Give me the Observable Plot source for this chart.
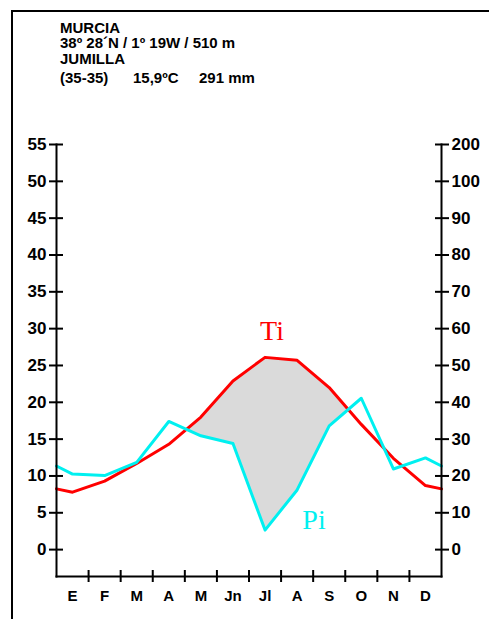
<!DOCTYPE html>
<html>
<head>
<meta charset="utf-8">
<script src="https://cdn.jsdelivr.net/npm/d3@7"></script>
<script src="https://cdn.jsdelivr.net/npm/@observablehq/plot@0.6"></script>
<style>
  html, body { margin: 0; padding: 0; background: #fff; }
  #wrap { position: relative; width: 489px; height: 619px; overflow: hidden; }
  #border { position: absolute; left: 11px; top: 10px; right: -5px; bottom: -5px; border-top: 2px solid #000; border-left: 2px solid #000; }
  #title { position: absolute; left: 0; top: 0; }
  #title text { font-family: "Liberation Sans", Arial, sans-serif; font-weight: bold; font-size: 15px; fill: #000; }
  #chart { position: absolute; left: 0; top: 0; }
</style>
</head>
<body>
<div id="wrap">
  <div id="border"></div>
  <div id="chart"></div>
  <svg id="title" width="489" height="100">
    <text x="60" y="33">MURCIA</text>
    <text x="60" y="48">38º 28´N / 1º 19W / 510 m</text>
    <text x="60" y="64">JUMILLA</text>
    <text x="60" y="83">(35-35)</text>
    <text x="133" y="83">15,9ºC</text>
    <text x="199" y="83">291 mm</text>
  </svg>
</div>
<script>
// ---- data ----
const months = ["E", "F", "M", "A", "M", "Jn", "Jl", "A", "S", "O", "N", "D"];
const temperature = [7.8, 9.3, 11.7, 14.3, 18.0, 22.9, 26.1, 25.7, 22.0, 17.0, 12.4, 8.7];   // ºC
const precipitation = [20.5, 20.1, 23.7, 34.8, 30.9, 28.8, 5.3, 16.2, 33.6, 41.1, 21.9, 24.9]; // mm
const leftTicks = [0, 5, 10, 15, 20, 25, 30, 35, 40, 45, 50, 55];
const rightTickLabels = ["0", "10", "20", "30", "40", "50", "60", "70", "80", "90", "100", "200"];
const seriesLabels = ["Ti", "Pi"];

// ---- build series (P shown at P = 2T scale); edges = mean of Dec & Jan ----
const n = months.length;
const pts = [];
pts.push({x: 0, t: (temperature[0] + temperature[n - 1]) / 2, p: (precipitation[0] + precipitation[n - 1]) / 4});
for (let i = 0; i < n; i++) pts.push({x: i + 0.5, t: temperature[i], p: precipitation[i] / 2});
pts.push({x: n, t: pts[0].t, p: pts[0].p});

// dense series with crossing points
const dense = [];
for (let i = 0; i < pts.length; i++) {
  dense.push(pts[i]);
  if (i < pts.length - 1) {
    const a = pts[i], b = pts[i + 1];
    const d0 = a.t - a.p, d1 = b.t - b.p;
    if (d0 * d1 < 0) {
      const f = d0 / (d0 - d1);
      const x = a.x + f * (b.x - a.x);
      const t = a.t + f * (b.t - a.t);
      dense.push({x, t, p: t});
    }
  }
}
// dry runs (T above P/2), keep the main one
const runs = [];
let cur = null;
for (const d of dense) {
  if (d.t - d.p >= -1e-9) { if (!cur) cur = []; cur.push(d); }
  else { if (cur) runs.push(cur); cur = null; }
}
if (cur) runs.push(cur);
const runArea = r => d3.sum(r.slice(1), (d, i) => (d.x - r[i].x) * ((d.t - d.p) + (r[i].t - r[i].p)) / 2);
const dry = runs.length ? runs.reduce((a, b) => runArea(b) > runArea(a) ? b : a) : [];

const tMaxIdx = d3.maxIndex(temperature);
const pMinIdx = d3.minIndex(precipitation);

const fontSans = "'Liberation Sans', Arial, sans-serif";

const chart = Plot.plot({
  width: 489,
  height: 619,
  marginLeft: 56,
  marginRight: 48,
  marginTop: 144,
  marginBottom: 43,
  style: {fontFamily: fontSans, fontWeight: "bold", fontSize: "17px", color: "#000", background: "transparent", overflow: "visible"},
  x: {domain: [0, n], label: null},
  y: {domain: [-3.65, 55], label: null},
  marks: [
    Plot.areaY(dry, {x: "x", y1: "p", y2: "t", fill: "#dadada", curve: "linear"}),
    Plot.line(pts, {x: "x", y: "t", stroke: "#ff0000", strokeWidth: 3}),
    Plot.line(pts, {x: "x", y: "p", stroke: "#00f0f0", strokeWidth: 3}),
    Plot.frame({anchor: "left", stroke: "#000", strokeWidth: 2}),
    Plot.frame({anchor: "right", stroke: "#000", strokeWidth: 2}),
    Plot.frame({anchor: "bottom", stroke: "#000", strokeWidth: 2}),
    Plot.axisY({anchor: "left", ticks: leftTicks, tickSize: 14, dx: 7, tickFormat: () => "", strokeWidth: 2, label: null}),
    Plot.axisY({anchor: "left", ticks: leftTicks, tickSize: 0, tickPadding: 10, fontSize: 17, fontWeight: "bold", label: null}),
    Plot.axisY({anchor: "right", ticks: leftTicks, tickSize: 14, dx: -7, tickFormat: () => "", strokeWidth: 2, label: null}),
    Plot.axisY({anchor: "right", ticks: leftTicks, tickSize: 0, tickPadding: 10, fontSize: 17, fontWeight: "bold",
      tickFormat: d => rightTickLabels[leftTicks.indexOf(d)], label: null}),
    Plot.axisX({anchor: "bottom", ticks: d3.range(1, n), tickSize: 12, dy: -6, tickFormat: () => "", strokeWidth: 2, label: null}),
    Plot.axisX({anchor: "bottom", ticks: months.map((m, i) => i + 0.5), tickSize: 0, tickPadding: 14, fontSize: 15, fontWeight: "bold",
      tickFormat: d => months[Math.floor(d)], label: null}),
    Plot.text([seriesLabels[0]], {x: () => tMaxIdx + 0.5, y: () => temperature[tMaxIdx], text: d => d, dx: 7, dy: -26,
      fill: "#ff0000", fontFamily: "'Liberation Serif', 'Times New Roman', serif", fontSize: 28, fontWeight: "normal"}),
    Plot.text([seriesLabels[1]], {x: () => pMinIdx + 0.5, y: () => precipitation[pMinIdx] / 2, text: d => d, dx: 49, dy: -10,
      fill: "#00f0f0", fontFamily: "'Liberation Serif', 'Times New Roman', serif", fontSize: 28, fontWeight: "normal"})
  ]
});
document.getElementById("chart").appendChild(chart);
</script>
</body>
</html>
